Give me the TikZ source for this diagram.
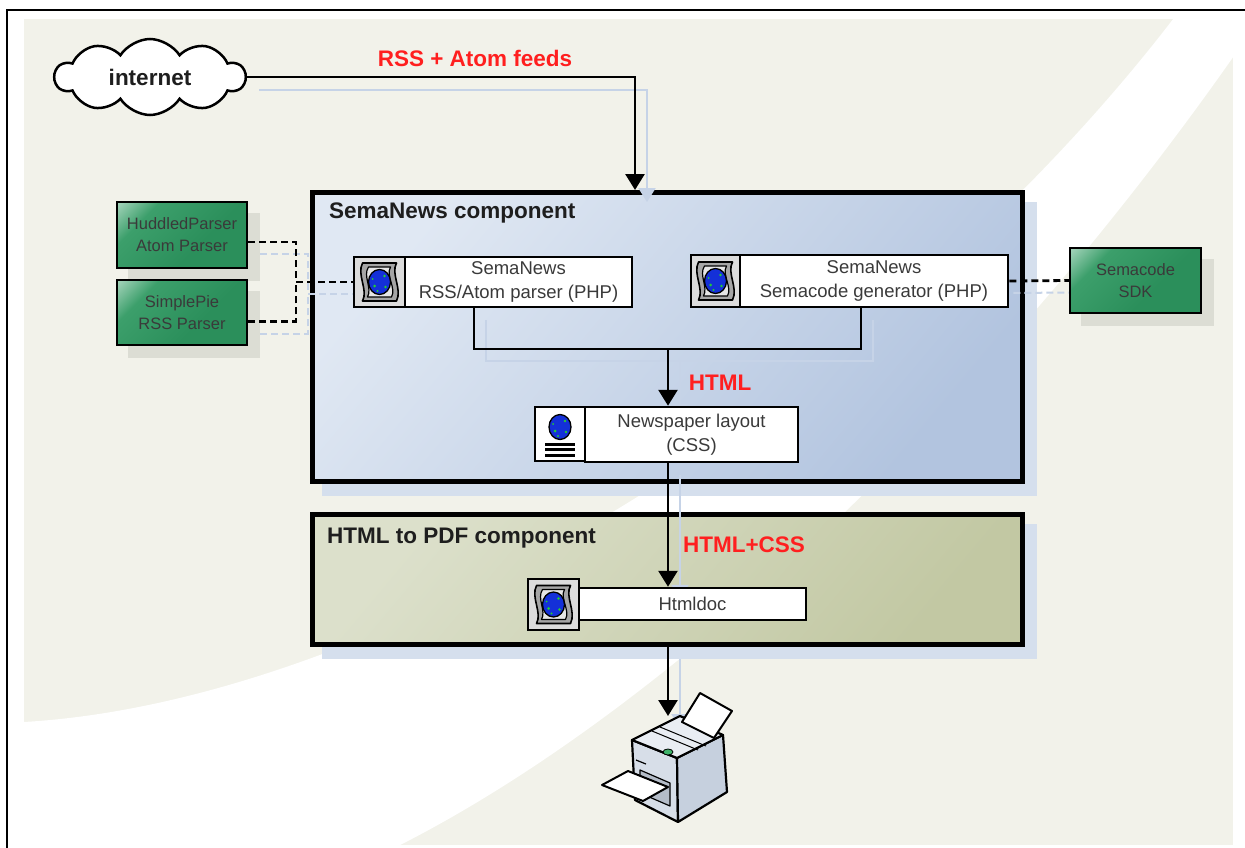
\documentclass[tikz,border=0pt]{standalone}
\usepackage{fontspec}
\setmainfont{Liberation Sans}
\usetikzlibrary{arrows.meta,shapes.symbols,calc}

\definecolor{beige}{HTML}{F2F2EA}
\definecolor{sematop}{HTML}{E0E8F3}
\definecolor{semabot}{HTML}{B2C4DF}
\definecolor{pdftop}{HTML}{DCE0CB}
\definecolor{pdfbot}{HTML}{C2C8A3}
\definecolor{gdark}{HTML}{2B8F5B}
\definecolor{gmid}{HTML}{3C9F6B}
\definecolor{glight}{HTML}{D4ECDF}
\definecolor{boxshade}{HTML}{D5DFED}
\definecolor{greyshade}{HTML}{DCDDD4}
\definecolor{linkshade}{HTML}{C6D3E7}
\definecolor{labelred}{HTML}{FF1F1F}
\definecolor{txtgray}{HTML}{3A3A3A}
\definecolor{titleblack}{HTML}{1E1E1E}
\definecolor{scrollgray}{HTML}{A6A6A6}
\definecolor{scrollin}{HTML}{E6E6E6}
\definecolor{iconfill}{HTML}{DCDCDC}
\definecolor{globeblue}{HTML}{1430D8}
\definecolor{globegreen}{HTML}{22CC33}
\definecolor{prtop}{HTML}{E9EDF3}
\definecolor{prleft}{HTML}{D7DEE8}
\definecolor{prright}{HTML}{C6D0DE}
\definecolor{prslot}{HTML}{B4BCC8}
\definecolor{prgreen}{HTML}{3FB36A}

\pgfdeclareverticalshading{greenbox}{100bp}{color(0bp)=(gdark); color(40bp)=(gdark); color(70bp)=(gmid); color(92bp)=(glight); color(100bp)=(glight)}

\pgfdeclarelayer{bg}
\pgfdeclarelayer{compshadow}
\pgfdeclarelayer{comp}
\pgfdeclarelayer{shadow}
\pgfsetlayers{bg,compshadow,comp,shadow,main}

\newcommand\tfBig{\bfseries\fontsize{22.5pt}{27pt}\selectfont}
\newcommand\tfNode{\fontsize{18.5pt}{24.5pt}\selectfont}
\newcommand\tfGreen{\fontsize{16.5pt}{22pt}\selectfont}

\tikzset{
  compbox/.style={draw=black, line width=5pt, inner sep=0pt},
  iconbox/.style={draw=black, line width=2.5pt, fill=iconfill, inner sep=0pt},
  textbox/.style={draw=black, line width=2.5pt, fill=white, inner sep=0pt,
    align=center, text=txtgray, font=\tfNode},
  greenbox/.style={draw=black, line width=2.5pt, shade, shading=greenbox,
    shading angle=45, inner sep=0pt, align=center, text=txtgray, font=\tfGreen},
  boxtitle/.style={anchor=west, inner sep=0pt, text=titleblack, font=\tfBig},
  redlabel/.style={inner sep=0pt, text=labelred, font=\tfBig},
  link/.style={draw=black, line width=2.8pt},
  flowtip/.style={-{Triangle[width=19pt,length=16pt]}},
  dashlink/.style={draw=black, line width=2.8pt, dash pattern=on 7pt off 4pt},
  shadowlink/.style={draw=linkshade, line width=2pt},
  shadowtip/.style={-{Triangle[width=17pt,length=14pt]}},
  shadowdash/.style={draw=linkshade, line width=2pt, dash pattern=on 7pt off 4pt}
}

% globe with a scroll frame, drawn around a node centre
\newcommand\drawglobe{%
  \filldraw[fill=globeblue, line width=1.3pt] (0,0) ellipse [x radius=11pt, y radius=12.5pt];
  \fill[globegreen] (-5,4) circle [radius=1.5pt] (5,-6) circle [radius=1.3pt]
    (6,5) circle [radius=1.4pt] (-2,9) circle [radius=1.1pt] (-7,-3) circle [radius=1pt];
}
\newcommand\scrollicon[1]{%
  \begin{scope}[shift={(#1.center)}]
    \filldraw[fill=scrollgray, line width=1.6pt, line join=round]
      (-17,-19) -- (17,-19) .. controls (11,-8) and (23,7) .. (17,19)
      -- (-17,19) .. controls (-11,8) and (-23,-7) .. (-17,-19) -- cycle;
    \filldraw[fill=scrollin, line width=1.2pt, line join=round]
      (-11,-15) -- (11,-15) .. controls (6,-6) and (17,6) .. (12,15)
      -- (-12,15) .. controls (-7,6) and (-17,-6) .. (-11,-15) -- cycle;
    \drawglobe
  \end{scope}}
\newcommand\pageicon[1]{%
  \begin{scope}[shift={(#1.center)}]
    \begin{scope}[shift={(0,-7)}]\drawglobe\end{scope}
    \foreach \yy in {10,15.5,21}
      \draw[line width=3pt] (-15,\yy) -- (15,\yy);
  \end{scope}}

\begin{document}
\begin{tikzpicture}[x=1pt, y=-1pt]
\useasboundingbox (0,0) rectangle (1245,848);

% backdrop: page, beige panel and the white sweep
\begin{pgfonlayer}{bg}
  \fill[white] (0,0) rectangle (1245,848);
  \fill[beige] (24,19) rectangle (1233,845);
  \begin{scope}
    \clip (24,19) rectangle (1233,845);
    \fill[white] (0,724) -- (24,722) .. controls (400,700) and (900,380) .. (1180,10)
      -- (1270,0) -- (1270,5) -- (1245,40) .. controls (1015,373) and (680,710) .. (380,855)
      -- (0,860) -- cycle;
  \end{scope}
  \draw[line width=1.5pt] (7,848) -- (7,10) -- (1245,10);
\end{pgfonlayer}

% components
\begin{pgfonlayer}{comp}
  \node[compbox, top color=sematop, bottom color=semabot, shading angle=50,
    minimum width=710pt, minimum height=289pt] (sema) at (667.5,337) {};
  \node[compbox, top color=pdftop, bottom color=pdfbot, shading angle=50,
    minimum width=710pt, minimum height=130pt] (pdf) at (667.5,579.5) {};
  \node[boxtitle] (semat) at (329,213) {SemaNews component};
  \node[boxtitle] (pdft) at (327,538) {HTML to PDF component};
\end{pgfonlayer}

% cloud
\node[cloud, cloud puffs=10, cloud puff arc=115, aspect=2.5, draw=black, line width=2.5pt,
  fill=white, minimum width=190pt, minimum height=76pt, inner sep=0pt,
  font=\tfBig, text=titleblack] (net) at (150,77) {internet};

% external libraries
\node[greenbox, minimum width=130pt, minimum height=66pt] (hud) at (182,235) {HuddledParser\\Atom Parser};
\node[greenbox, minimum width=130pt, minimum height=65pt] (spie) at (182,312.5) {SimplePie\\RSS Parser};
\node[greenbox, minimum width=131pt, minimum height=65pt] (sdk) at (1135.5,280.5) {Semacode\\SDK};

% inner modules
\node[iconbox, minimum width=51pt, minimum height=50pt] (n1i) at (379.5,282) {};
\node[textbox, minimum width=227pt, minimum height=50pt] (n1t) at (518.5,282) {SemaNews\\RSS/Atom parser (PHP)};
\node[iconbox, minimum width=49pt, minimum height=52pt] (n2i) at (715.5,281) {};
\node[textbox, minimum width=268pt, minimum height=52pt] (n2t) at (874,281) {SemaNews\\Semacode generator (PHP)};
\node[iconbox, fill=white, minimum width=50pt, minimum height=54pt] (npi) at (560,434) {};
\node[textbox, minimum width=213pt, minimum height=55pt] (npt) at (691.5,434.5) {Newspaper layout\\(CSS)};
\node[iconbox, minimum width=51pt, minimum height=51pt] (hdi) at (553.5,604.5) {};
\node[textbox, minimum width=227pt, minimum height=32pt] (hdt) at (692.5,604) {Htmldoc};

\scrollicon{n1i}
\scrollicon{n2i}
\scrollicon{hdi}
\pageicon{npi}

% flow labels
\node[redlabel] (lrss) at (475,58) {RSS + Atom feeds};
\node[redlabel] (lhtml) at (720,383) {HTML};
\node[redlabel] (lcss) at (744,545) {HTML+CSS};

% helper points
\path (635,0) coordinate (xr) (474,0) coordinate (x1) (861,0) coordinate (x2);
\coordinate (flow) at (668,349);
\coordinate (dj) at (296,282);
\coordinate (prn) at (668,716);

% printer
\begin{scope}[line join=round]
  \filldraw[fill=prleft, line width=2.2pt] (632,740) -- (677,758) -- (678,822) -- (635,800) -- cycle;
  \filldraw[fill=prright, line width=2.2pt] (677,758) -- (723,735) -- (727,792) -- (678,822) -- cycle;
  \filldraw[fill=prtop, line width=2.2pt] (632,740) -- (680,716) -- (723,735) -- (677,758) -- cycle;
  \draw[line width=1pt] (652,731) -- (698,750);
  \draw[line width=1pt] (660,727) -- (706,746);
  \filldraw[fill=white, line width=2pt] (682,722) -- (700,693) -- (732,711) -- (714,738) -- cycle;
  \filldraw[fill=prgreen, line width=0.8pt] (668,752) ellipse [x radius=5pt, y radius=3pt];
  \filldraw[fill=prslot, line width=1.2pt] (640,770) -- (670,783) -- (670,806) -- (640,793) -- cycle;
  \filldraw[fill=white, line width=2pt] (602,785) -- (628,771) -- (668,787) -- (643,801) -- cycle;
  \draw[line width=1.2pt] (636,760) -- (646,764);
\end{scope}

% shadows of the connectors
\begin{pgfonlayer}{shadow}
  \draw[shadowlink, shadowtip] ($(net.east)+(12,13)$) -| ($(xr |- sema.north)+(12,12)$);
  \draw[shadowlink] ($(x1 |- n1t.south)+(12,12)$) -- ($(x1 |- flow)+(12,12)$)
    -- ($(x2 |- flow)+(12,12)$) -- ($(x2 |- n2t.south)+(12,12)$);
  \draw[shadowlink, shadowtip] ($(flow)+(12,12)$) -- ($(flow |- npt.north)+(12,12)$);
  \draw[shadowlink, shadowtip] ($(flow |- npt.south)+(12,12)$) -- ($(flow |- hdt.north)+(12,12)$);
  \draw[shadowlink, shadowtip] ($(flow |- pdf.south)+(12,12)$) -- ($(prn)+(12,12)$);
  \draw[shadowdash] ($(hud.east)+(12,19)$) -| ($(dj)+(12,12)$);
  \draw[shadowdash] ($(spie.east)+(12,21)$) -| ($(dj)+(12,12)$);
  \draw[shadowdash] ($(dj)+(12,12)$) -- ($(n1i.west)+(12,12)$);
  \draw[shadowdash] ($(n2t.east)+(4,12)$) -- ($(sdk.west)+(0,12)$);
\end{pgfonlayer}

% shadows of the boxes
\begin{pgfonlayer}{compshadow}
  \fill[boxshade] ($(sema.north west)+(12,12)$) rectangle ($(sema.south east)+(12,12)$);
  \fill[boxshade] ($(pdf.north west)+(12,12)$) rectangle ($(pdf.south east)+(12,12)$);
  \fill[greyshade] ($(hud.north west)+(12,12)$) rectangle ($(hud.south east)+(12,12)$);
  \fill[greyshade] ($(spie.north west)+(12,12)$) rectangle ($(spie.south east)+(12,12)$);
  \fill[greyshade] ($(sdk.north west)+(12,12)$) rectangle ($(sdk.south east)+(12,12)$);
\end{pgfonlayer}

% connectors
\draw[link, flowtip] (net.east) -| (xr |- sema.north);
\draw[link] (x1 |- n1t.south) -- (x1 |- flow) -- (x2 |- flow) -- (x2 |- n2t.south);
\draw[link, flowtip] (flow) -- (flow |- npt.north);
\draw[link, flowtip] (flow |- npt.south) -- (flow |- hdt.north);
\draw[link, flowtip] (flow |- pdf.south) -- (prn);

\draw[dashlink] ($(hud.east)+(0,7)$) -| (dj);
\draw[dashlink] ($(spie.east)+(0,9)$) -| (dj);
\draw[dashlink] (dj) -- (n1i.west);
\draw[dashlink] (n2t.east) -- (sdk.west);
\end{tikzpicture}
\end{document}
